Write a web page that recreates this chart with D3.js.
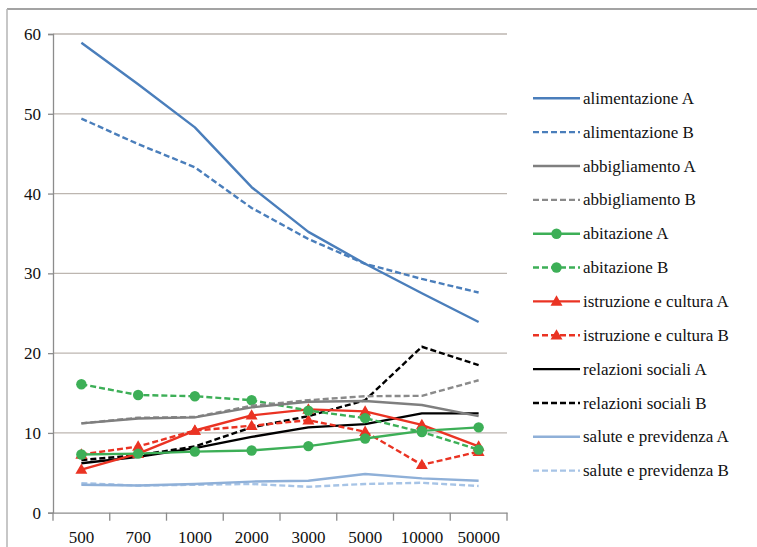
<!DOCTYPE html>
<html>
<head>
<meta charset="utf-8">
<script src="https://cdn.jsdelivr.net/npm/d3@7"></script>
<style>
  html, body { margin: 0; padding: 0; background: #fff; }
  svg { display: block; }
  svg text { font-family: "Liberation Serif", "Times New Roman", "DejaVu Serif", serif; }
</style>
</head>
<body>
<svg id="chart" width="757" height="547"></svg>
<script>
// Income classes on the x axis
const categories = ["500", "700", "1000", "2000", "3000", "5000", "10000", "50000"];
const yTicks = [0, 10, 20, 30, 40, 50, 60];

// Expenditure shares (%) per category, series A and B
const alimentazioneA = [58.9, 53.7, 48.3, 40.8, 35.2, 31.2, 27.5, 23.9];
const alimentazioneB = [49.4, 46.2, 43.3, 38.2, 34.3, 31.2, 29.3, 27.6];
const abbigliamentoA = [11.2, 11.8, 11.95, 13.2, 13.9, 14.0, 13.5, 12.1];
const abbigliamentoB = [11.2, 11.9, 12.0, 13.4, 14.1, 14.6, 14.65, 16.6];
const abitazioneA = [7.3, 7.4, 7.65, 7.8, 8.35, 9.3, 10.25, 10.7];
const abitazioneB = [16.1, 14.75, 14.6, 14.1, 12.8, 11.85, 10.1, 7.9];
const istruzioneA = [5.4, 7.4, 10.3, 12.2, 12.95, 12.7, 11.0, 8.3];
const istruzioneB = [7.3, 8.3, 10.3, 10.9, 11.6, 10.15, 6.0, 7.65];
const relazioniA = [6.2, 7.0, 8.1, 9.5, 10.7, 11.1, 12.45, 12.45];
const relazioniB = [6.6, 7.2, 8.3, 10.7, 12.1, 14.1, 20.8, 18.5];
const saluteA = [3.5, 3.4, 3.6, 3.9, 4.0, 4.85, 4.3, 4.0];
const saluteB = [3.7, 3.4, 3.5, 3.6, 3.25, 3.6, 3.75, 3.35];

const seriesNames = [
  "alimentazione A", "alimentazione B",
  "abbigliamento A", "abbigliamento B",
  "abitazione A", "abitazione B",
  "istruzione e cultura A", "istruzione e cultura B",
  "relazioni sociali A", "relazioni sociali B",
  "salute e previdenza A", "salute e previdenza B"
];
const seriesValues = [
  alimentazioneA, alimentazioneB,
  abbigliamentoA, abbigliamentoB,
  abitazioneA, abitazioneB,
  istruzioneA, istruzioneB,
  relazioniA, relazioniB,
  saluteA, saluteB
];

// Visual style per series
const styles = [
  { color: "#4a7ebb", dash: null, marker: null },
  { color: "#4a7ebb", dash: "6,3", marker: null },
  { color: "#7f7f7f", dash: null, marker: null },
  { color: "#8a8a8a", dash: "6,3", marker: null },
  { color: "#3daf57", dash: null, marker: "circle" },
  { color: "#3daf57", dash: "6,3", marker: "circle" },
  { color: "#ea3323", dash: null, marker: "triangle" },
  { color: "#ea3323", dash: "6,3", marker: "triangle" },
  { color: "#000000", dash: null, marker: null },
  { color: "#000000", dash: "6,3", marker: null },
  { color: "#8fb0d8", dash: null, marker: null },
  { color: "#a7c4e6", dash: "6,3", marker: null }
];

const FONT = '"Liberation Serif", "Times New Roman", "DejaVu Serif", serif';
const FONT_SIZE = 17;
const svg = d3.select("#chart");

// Outer frame (top and left edges)
svg.append("line").attr("x1", 7).attr("x2", 757).attr("y1", 9).attr("y2", 9)
  .attr("stroke", "#a3a3a3").attr("stroke-width", 2);
svg.append("line").attr("x1", 7).attr("x2", 7).attr("y1", 9).attr("y2", 547)
  .attr("stroke", "#b5b5b5").attr("stroke-width", 1.5);

const plot = { left: 53, right: 507, top: 34, bottom: 512.7 };

const x = d3.scaleBand().domain(categories).range([plot.left, plot.right]).padding(0);
const y = d3.scaleLinear().domain([0, 60]).range([plot.bottom, plot.top]);

// Horizontal gridlines
svg.append("g").selectAll("line").data(yTicks.filter(d => d > 0)).join("line")
  .attr("x1", plot.left).attr("x2", plot.right)
  .attr("y1", d => y(d)).attr("y2", d => y(d))
  .attr("stroke", "#bdb6b0").attr("stroke-width", 1.3);

// Y axis
const yAxis = svg.append("g").attr("transform", `translate(${plot.left},0)`)
  .call(d3.axisLeft(y).tickValues(yTicks).tickSize(5).tickPadding(7));
yAxis.attr("font-family", null);
yAxis.select(".domain").attr("stroke", "#8c8c8c").attr("stroke-width", 1.3);
yAxis.selectAll(".tick line").attr("stroke", "#8c8c8c").attr("stroke-width", 1.3);
yAxis.selectAll("text").attr("font-size", FONT_SIZE).attr("fill", "#111").style("font-family", FONT);

// X axis: labels at band centers, tick marks at band boundaries
const xAxis = svg.append("g").attr("transform", `translate(0,${plot.bottom})`)
  .call(d3.axisBottom(x).tickSize(0).tickPadding(18));
xAxis.attr("font-family", null);
xAxis.select(".domain").attr("stroke", "#8c8c8c").attr("stroke-width", 1.3);
xAxis.selectAll("text").attr("font-size", FONT_SIZE).attr("fill", "#111").style("font-family", FONT);
const boundaries = categories.map(c => x(c)).concat([x(categories[categories.length - 1]) + x.bandwidth()]);
xAxis.append("g").selectAll("line").data(boundaries).join("line")
  .attr("x1", d => d).attr("x2", d => d).attr("y1", 0).attr("y2", 8)
  .attr("stroke", "#8c8c8c").attr("stroke-width", 1.3);

const cx = c => x(c) + x.bandwidth() / 2;
const line = d3.line().x((d, i) => cx(categories[i])).y(d => y(d));

const triangle = d3.symbol().type(d3.symbolTriangle).size(62);

function drawMarker(g, kind, color, px, py) {
  if (kind === "circle") {
    g.append("circle").attr("cx", px).attr("cy", py).attr("r", 5.2).attr("fill", color);
  } else if (kind === "triangle") {
    g.append("path").attr("d", triangle()).attr("transform", `translate(${px},${py + 0.8})`).attr("fill", color);
  }
}

// Draw series back to front so the first ones end up on top
const order = d3.range(seriesNames.length).reverse();
order.forEach(i => {
  const s = styles[i];
  const g = svg.append("g");
  g.append("path").datum(seriesValues[i]).attr("d", line)
    .attr("fill", "none").attr("stroke", s.color).attr("stroke-width", 2.4)
    .attr("stroke-dasharray", s.dash).attr("stroke-linejoin", "round");
  if (s.marker) {
    seriesValues[i].forEach((v, j) => drawMarker(g, s.marker, s.color, cx(categories[j]), y(v)));
  }
});

// Legend
const legend = svg.append("g");
seriesNames.forEach((name, i) => {
  const s = styles[i];
  const ly = 98.3 + i * 33.85;
  const g = legend.append("g");
  g.append("line").attr("x1", 533).attr("x2", 580).attr("y1", ly).attr("y2", ly)
    .attr("stroke", s.color).attr("stroke-width", 2.4).attr("stroke-dasharray", s.dash);
  if (s.marker) drawMarker(g, s.marker, s.color, 556.5, ly);
  g.append("text").attr("x", 583).attr("y", ly).attr("dy", "0.33em")
    .attr("font-size", FONT_SIZE).attr("fill", "#111").style("font-family", FONT).text(name);
});
</script>
</body>
</html>
